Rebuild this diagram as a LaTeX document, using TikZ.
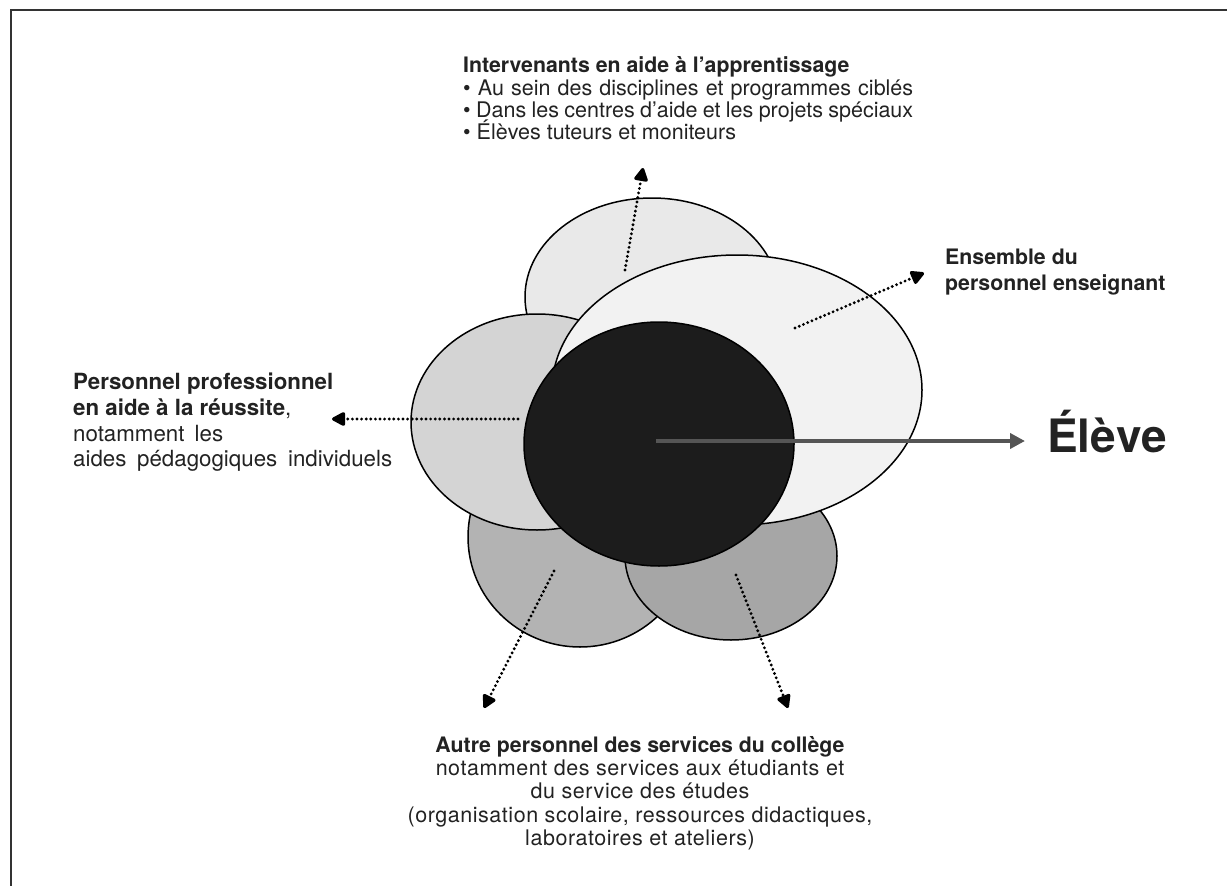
\documentclass[tikz,border=0pt]{standalone}
\usepackage{fontspec}
\setmainfont{TeX Gyre Heros}
\newfontfamily\regB[LetterSpace=2.5]{TeX Gyre Heros}
\usetikzlibrary{shapes.geometric,arrows.meta}
\definecolor{txt}{HTML}{222222}
\definecolor{cbl}{HTML}{B3B3B3}
\definecolor{cbr}{HTML}{A6A6A6}
\definecolor{ctp}{HTML}{E9E9E9}
\definecolor{clf}{HTML}{D4D4D4}
\definecolor{crt}{HTML}{F2F2F2}
\definecolor{cct}{HTML}{1C1C1C}
\definecolor{frame}{HTML}{333333}
\definecolor{garrow}{HTML}{555555}
\newcommand{\fitline}[2]{\makebox[#1][s]{#2}}
\begin{document}
\begin{tikzpicture}[x=1pt,y=-1pt,
  blob/.style={ellipse,draw=black,line width=1.5pt,inner sep=0pt},
  dotarrow/.style={line width=3.2pt,dash pattern=on 0pt off 4.6pt,line cap=round,
    -{Triangle[length=15pt,width=15pt,round=false]}},
  lblt/.style={text=txt,inner sep=0pt,font=\fontsize{21.5}{22.7}\selectfont},
  lblbot/.style={text=txt,inner sep=0pt,font=\fontsize{21.5}{22.7}\selectfont\regB},
  lblb/.style={text=txt,inner sep=0pt,font=\fontsize{21.3}{22.7}\selectfont\bfseries},
  lbll/.style={text=txt,inner sep=0pt,font=\fontsize{22.3}{25}\selectfont},
  lbllb/.style={text=txt,inner sep=0pt,font=\fontsize{22.3}{25}\selectfont\bfseries}
]
\useasboundingbox (0,0) rectangle (1227,886);
\draw[frame,line width=2pt] (11,886) -- (11,10) -- (1227,10);

% ellipses
\node[blob,fill=cbl,minimum width=224pt,minimum height=220pt] (bl) at (580,537) {};
\node[blob,fill=cbr,minimum width=212pt,minimum height=168pt] (br) at (731,556) {};
\node[blob,fill=ctp,minimum width=254pt,minimum height=198pt] (tp) at (652,297) {};
\node[blob,fill=clf,minimum width=252pt,minimum height=216pt] (lf) at (537,422) {};
\node[blob,fill=crt,minimum width=370pt,minimum height=270pt] (rt) at (737,390) {};
\node[blob,fill=cct,minimum width=270pt,minimum height=244pt] (ct) at (659,444) {};

% arrow coordinates
\coordinate (a1s) at (625,270); \coordinate (a1e) at (643,168);
\coordinate (a2s) at (795,328); \coordinate (a2e) at (924,273);
\coordinate (a3s) at (518,419); \coordinate (a3e) at (332,419);
\coordinate (a4s) at (554,571); \coordinate (a4e) at (484,708);
\coordinate (a5s) at (736,575); \coordinate (a5e) at (788,708);
\coordinate (gs) at (656,441);  \coordinate (ge) at (1025,441);

\draw[dotarrow] (a1s) -- (a1e);
\draw[dotarrow] (a2s) -- (a2e);
\draw[dotarrow] (a3s) -- (a3e);
\draw[dotarrow] (a4s) -- (a4e);
\draw[dotarrow] (a5s) -- (a5e);
\draw[garrow,line width=4pt,-{Triangle[length=15pt,width=15pt]}] (gs) -- (ge);

% top text
\node[lblb,anchor=base west] (t1) at (463,72) {Intervenants en aide à l’apprentissage};
\node[lblt,anchor=base west] (t2) at (463,95) {\fitline{450pt}{\textbullet\ Au sein des disciplines et programmes ciblés}};
\node[lblt,anchor=base west] (t3) at (463,117) {\fitline{450pt}{\textbullet\ Dans les centres d’aide et les projets spéciaux}};
\node[lblt,anchor=base west] (t4) at (463,139) {\textbullet\ Élèves tuteurs et moniteurs};

% right text
\node[lblb,anchor=base west] (r1) at (945,264) {Ensemble du};
\node[lblb,anchor=base west] (r2) at (945,290) {personnel enseignant};

% left text
\node[lbllb,anchor=base west] (l1) at (73,389) {Personnel professionnel};
\node[lbll,anchor=base west] (l2) at (73,415) {\textbf{en aide à la réussite},};
\node[lbll,anchor=base west] (l3) at (73,441) {\fitline{150pt}{notamment les}};
\node[lbll,anchor=base west] (l4) at (73,466) {\fitline{319pt}{aides pédagogiques individuels}};

% bottom text
\node[lblb,anchor=base] (b1) at (640,752) {Autre personnel des services du collège};
\node[lblbot,anchor=base] (b2) at (640,775) {notamment des services aux étudiants et};
\node[lblbot,anchor=base] (b3) at (640,798) {du service des études};
\node[lblbot,anchor=base] (b4) at (640,822) {(organisation scolaire, ressources didactiques,};
\node[lblbot,anchor=base] (b5) at (640,845) {laboratoires et ateliers)};

% student
\node[text=txt,inner sep=0pt,anchor=base west,font=\fontsize{46}{50}\selectfont\bfseries] (eleve) at (1047,452) {Élève};
\end{tikzpicture}
\end{document}
